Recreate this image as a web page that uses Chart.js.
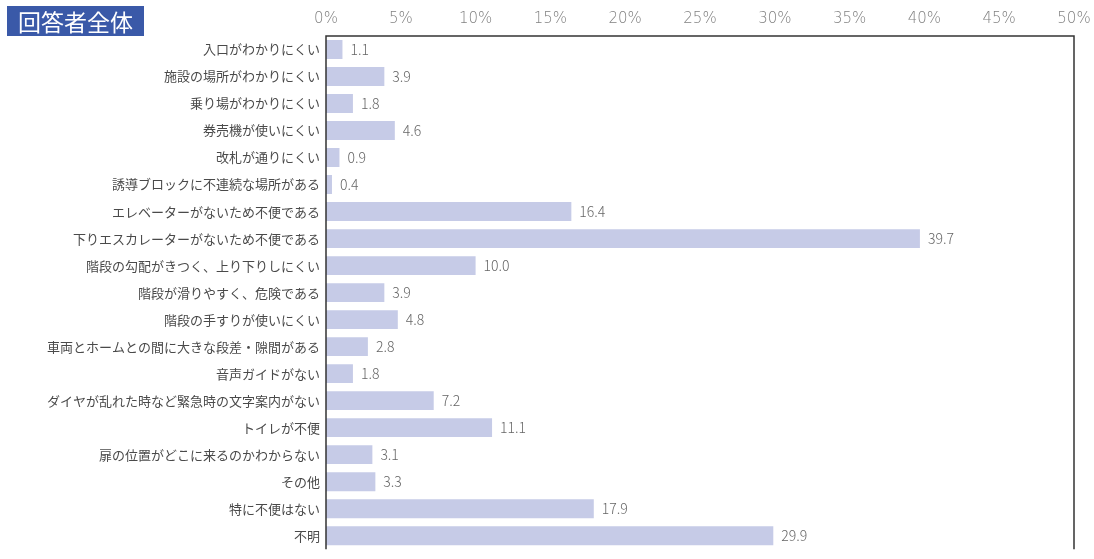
<!DOCTYPE html>
<html lang="ja">
<head>
<meta charset="utf-8">
<script src="https://cdn.jsdelivr.net/npm/chart.js@4.4.0/dist/chart.umd.min.js"></script>
<style>
  html, body { margin: 0; padding: 0; background: #fff; overflow: hidden; }
  #wrap { position: relative; width: 1094px; height: 563px; }
  #badge {
    position: absolute; left: 7px; top: 6px; width: 137px; height: 30px;
    background: #3a59a8; color: #fff;
    font: 23px "Noto Sans CJK JP", sans-serif; line-height: 30px;
    text-align: center;
  }
</style>
</head>
<body>
<div id="wrap">
  <canvas id="chart" width="1094" height="563"></canvas>
  <div id="badge">回答者全体</div>
</div>
<script>
// 不便な点（回答者全体, %）
const categories = [
  '入口がわかりにくい',
  '施設の場所がわかりにくい',
  '乗り場がわかりにくい',
  '券売機が使いにくい',
  '改札が通りにくい',
  '誘導ブロックに不連続な場所がある',
  'エレベーターがないため不便である',
  '下りエスカレーターがないため不便である',
  '階段の勾配がきつく、上り下りしにくい',
  '階段が滑りやすく、危険である',
  '階段の手すりが使いにくい',
  '車両とホームとの間に大きな段差・隙間がある',
  '音声ガイドがない',
  'ダイヤが乱れた時など緊急時の文字案内がない',
  'トイレが不便',
  '扉の位置がどこに来るのかわからない',
  'その他',
  '特に不便はない',
  '不明'
];
const values = [1.1, 3.9, 1.8, 4.6, 0.9, 0.4, 16.4, 39.7, 10.0, 3.9, 4.8, 2.8, 1.8, 7.2, 11.1, 3.1, 3.3, 17.9, 29.9];
const tickValues = [0, 5, 10, 15, 20, 25, 30, 35, 40, 45, 50];

const jpFont = '"Noto Sans CJK JP", "Noto Sans", sans-serif';

// 棒の右に数値を描く
const valueLabels = {
  id: 'valueLabels',
  afterDatasetsDraw(chart) {
    const ctx = chart.ctx;
    const meta = chart.getDatasetMeta(0);
    ctx.save();
    ctx.font = '300 14px ' + jpFont;
    ctx.fillStyle = '#666';
    ctx.textBaseline = 'middle';
    ctx.textAlign = 'left';
    meta.data.forEach((bar, i) => {
      ctx.fillText(values[i].toFixed(1), bar.x + 8, bar.y);
    });
    ctx.restore();
  }
};

// 枠線（上・左・右）
const frame = {
  id: 'frame',
  afterDraw(chart) {
    const { ctx, chartArea: a } = chart;
    ctx.save();
    ctx.strokeStyle = '#333';
    ctx.lineWidth = 1.5;
    ctx.beginPath();
    ctx.moveTo(a.left, a.bottom);
    ctx.lineTo(a.left, a.top);
    ctx.lineTo(a.right, a.top);
    ctx.lineTo(a.right, a.bottom);
    ctx.stroke();
    ctx.restore();
  }
};

new Chart(document.getElementById('chart'), {
  type: 'bar',
  data: {
    labels: categories,
    datasets: [{
      data: values,
      backgroundColor: '#c6cbe7',
      borderWidth: 0,
      barPercentage: 0.7,
      categoryPercentage: 1.0
    }]
  },
  options: {
    indexAxis: 'y',
    responsive: false,
    animation: false,
    layout: { padding: { left: 0, right: 0, top: 0, bottom: 0 } },
    plugins: {
      legend: { display: false },
      tooltip: { enabled: false }
    },
    scales: {
      x: {
        position: 'top',
        min: 0,
        max: 50,
        afterBuildTicks(scale) {
          scale.ticks = tickValues.map(v => ({ value: v }));
        },
        afterFit(scale) {
          scale.height = 36;
          scale.paddingLeft = 0;
          scale.paddingRight = 20;
        },
        grid: { display: false, drawTicks: false },
        border: { display: false },
        ticks: {
          padding: 8,
          color: '#808080',
          font: { size: 15, family: '"DejaVu Sans", sans-serif', weight: '300' },
          callback: v => v + '%'
        }
      },
      y: {
        afterFit(scale) { scale.width = 326; },
        grid: { display: false, drawTicks: false },
        border: { display: false },
        ticks: {
          padding: 6,
          color: '#4a4a4a',
          font: { size: 13, family: jpFont },
          autoSkip: false
        }
      }
    }
  },
  plugins: [valueLabels, frame]
});
</script>
</body>
</html>
